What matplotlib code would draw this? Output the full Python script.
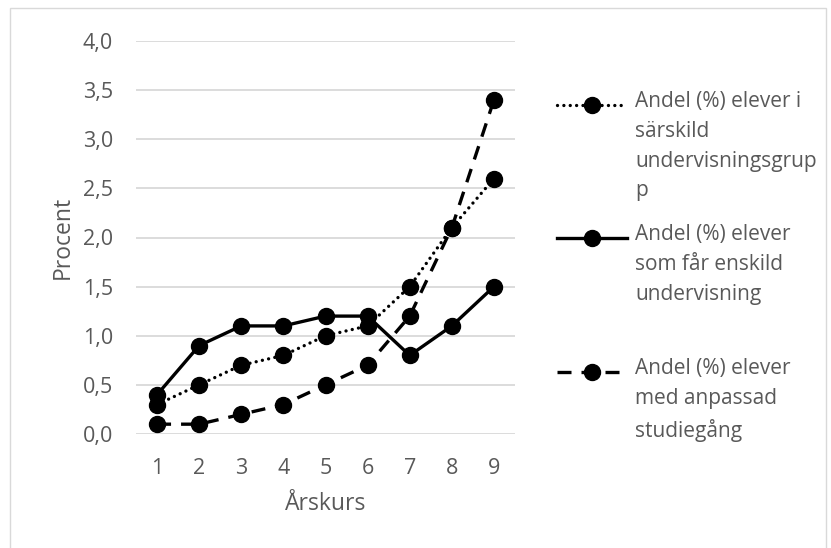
import matplotlib
matplotlib.use("Agg")
import matplotlib.pyplot as plt
from matplotlib.lines import Line2D
from matplotlib.patches import Rectangle
from matplotlib.ticker import FuncFormatter, MultipleLocator

plt.rcParams['font.family'] = ['Open Sans', 'DejaVu Sans']

arskurs = [1, 2, 3, 4, 5, 6, 7, 8, 9]
sarskild = [0.3, 0.5, 0.7, 0.8, 1.0, 1.1, 1.5, 2.1, 2.6]
enskild = [0.4, 0.9, 1.1, 1.1, 1.2, 1.2, 0.8, 1.1, 1.5]
anpassad = [0.1, 0.1, 0.2, 0.3, 0.5, 0.7, 1.2, 2.1, 3.4]

labels = ["Andel (%) elever i\nsärskild\nundervisningsgrup\np",
          "Andel (%) elever\nsom får enskild\nundervisning",
          "Andel (%) elever\nmed anpassad\nstudiegång"]

W, H = 831, 548
fig = plt.figure(figsize=(W / 100, H / 100), dpi=100)
ax = fig.add_axes([136 / W, 1 - 434 / H, (515 - 136) / W, (434 - 41) / H])

txt = '#595959'
grid = '#d9d9d9'
lw = 2.4
ms = 11.5

styles = [
    dict(linestyle=(0, (0.01, 1.9)), dash_capstyle='round'),
    dict(linestyle='-'),
    dict(linestyle=(0, (4.2, 3.0)), dash_capstyle='butt'),
]
series = [sarskild, enskild, anpassad]
for vals, st in zip(series, styles):
    ax.plot(arskurs, vals, color='black', lw=lw, marker='o', ms=ms,
            clip_on=False, **st)

ax.set_xlim(0.5, 9.5)
ax.set_ylim(0, 4)
ax.yaxis.set_major_locator(MultipleLocator(0.5))
ax.set_xticks(arskurs)
ax.yaxis.set_major_formatter(FuncFormatter(lambda v, p: f"{v:.1f}".replace('.', ',')))
ax.grid(axis='y', color=grid, lw=1.3)
ax.set_axisbelow(True)
for s in ax.spines.values():
    s.set_visible(False)
ax.tick_params(length=0, labelsize=15.5, labelcolor=txt)
ax.tick_params(axis='y', pad=16.5)
ax.tick_params(axis='x', pad=17)
ax.set_xlabel('Årskurs', fontsize=16.5, color=txt, labelpad=10)
ax.set_ylabel('Procent', fontsize=16.5, color=txt, labelpad=6)

# legend
leg_y = [105, 238, 372]
for y, lab, st in zip(leg_y, labels, styles):
    yy = 1 - y / H
    fig.add_artist(Line2D([557 / W, 627 / W], [yy, yy], color='black', lw=lw,
                          transform=fig.transFigure, **st))
    fig.add_artist(Line2D([592 / W], [yy], color='black', marker='o', ms=ms,
                          transform=fig.transFigure, linestyle='none'))
    fig.text(635 / W, yy + 14 / H, lab, fontsize=15, color=txt, va='top',
             ha='left', linespacing=1.55)

# chart frame (bottom edge lies outside the image)
fx0, fy0, fx1, fy1 = 10, 8, 826, 560
fig.add_artist(Rectangle((fx0 / W, 1 - fy1 / H), (fx1 - fx0) / W, (fy1 - fy0) / H,
                         transform=fig.transFigure, fill=False, edgecolor=grid, lw=1,
                         clip_on=False))

fig.savefig('out.png', dpi=100)
